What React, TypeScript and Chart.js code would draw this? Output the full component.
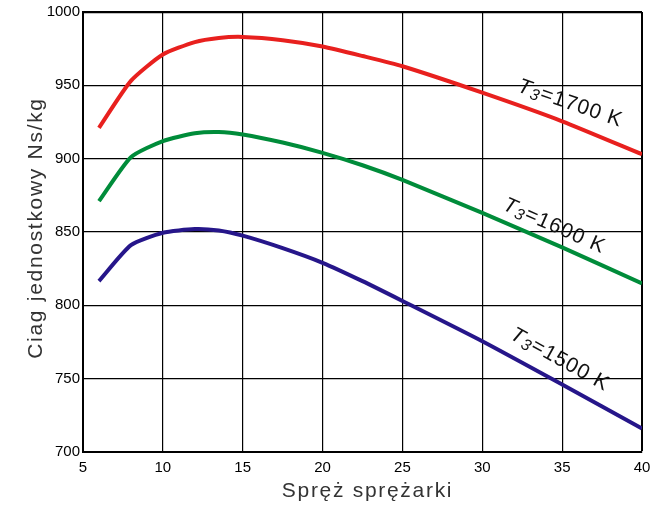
import React, { useEffect, useRef } from "react";
import { Chart, registerables } from "chart.js";

Chart.register(...registerables);

const xValues = [6, 8, 10, 12, 13.5, 15, 17.5, 20, 22.5, 25, 30, 35, 40];
const t1700 = [921, 953, 971, 979.5, 982.3, 983, 980.8, 976.5, 970, 963, 945, 925.5, 903];
const t1600 = [871, 901, 912, 917.3, 918.2, 916.5, 911, 904, 895.5, 885.5, 863, 839.5, 815];
const t1500 = [816.5, 841, 849.5, 852, 851, 847.5, 839, 829, 816.5, 803, 775.5, 746, 716];
const seriesLabels = ["1700", "1600", "1500"];
const xTicks = [5, 10, 15, 20, 25, 30, 35, 40];
const yTicks = [700, 750, 800, 850, 900, 950, 1000];
const xTitle = "Spręż sprężarki";
const yTitle = "Ciag jednostkowy Ns/kg";

const lineLabels = [
  { value: seriesLabels[0], x: 35.5, y: 937.5, angle: 19 },
  { value: seriesLabels[1], x: 34.5, y: 854, angle: 24 },
  { value: seriesLabels[2], x: 34.85, y: 763, angle: 29 },
];

const FONT = '"Liberation Sans", Arial, sans-serif';

const labelPlugin = {
  id: "lineLabels",
  afterDatasetsDraw(chart: any) {
    const ctx = chart.ctx;
    const xs = chart.scales.x;
    const ys = chart.scales.y;
    const area = chart.chartArea;
    lineLabels.forEach((l) => {
      const px = xs.getPixelForValue(l.x);
      const py = ys.getPixelForValue(l.y);
      const fs = 21;
      const parts = [
        { t: "T", font: `italic ${fs}px ${FONT}`, dy: 0 },
        { t: "3", font: `italic ${Math.round(fs * 0.75)}px ${FONT}`, dy: 4 },
        { t: "=" + l.value + " K", font: `${fs}px ${FONT}`, dy: 0 },
      ];
      ctx.save();
      (ctx as any).letterSpacing = "1px";
      ctx.translate(px, py);
      ctx.rotate((l.angle * Math.PI) / 180);
      let total = 0;
      parts.forEach((p) => {
        ctx.font = p.font;
        total += ctx.measureText(p.t).width;
      });
      let cx = -total / 2;
      ctx.fillStyle = "#111";
      ctx.textBaseline = "middle";
      ctx.textAlign = "left";
      parts.forEach((p) => {
        ctx.font = p.font;
        ctx.fillText(p.t, cx, p.dy);
        cx += ctx.measureText(p.t).width;
      });
      ctx.restore();
    });

    // axis titles
    ctx.save();
    (ctx as any).letterSpacing = "1.7px";
    ctx.fillStyle = "#333";
    ctx.font = `21px ${FONT}`;
    ctx.textAlign = "center";
    ctx.textBaseline = "alphabetic";
    ctx.fillText(xTitle, (area.left + area.right) / 2 + 5, 497);
    ctx.translate(42, (area.top + area.bottom) / 2 - 4);
    ctx.rotate(-Math.PI / 2);
    ctx.fillText(yTitle, 0, 0);
    ctx.restore();
  },
};

export default function App() {
  const ref = useRef<HTMLCanvasElement>(null);
  useEffect(() => {
    if (!ref.current) return;
    const mk = (data: number[], color: string) => ({
      data: xValues.map((x, i) => ({ x, y: data[i] })),
      borderColor: color,
      borderWidth: 4,
      pointRadius: 0,
      tension: 0.2,
      fill: false,
    });
    const tickFont = { family: FONT, size: 15 };
    const chart = new Chart(ref.current, {
      type: "line",
      data: {
        datasets: [
          mk(t1700, "#e8201e"),
          mk(t1600, "#008c3a"),
          mk(t1500, "#26168a"),
        ],
      },
      options: {
        animation: false,
        responsive: false,
        layout: { padding: { top: 11, right: 17, left: 0, bottom: 0 } },
        plugins: { legend: { display: false }, tooltip: { enabled: false } },
        scales: {
          x: {
            type: "linear",
            min: xTicks[0],
            max: xTicks[xTicks.length - 1],
            afterBuildTicks: (s: any) => {
              s.ticks = xTicks.map((v) => ({ value: v }));
            },
            ticks: { color: "#000", font: tickFont, padding: 7, maxRotation: 0, callback: (v: any) => String(v) },
            grid: {
              color: "#000",
              lineWidth: (c: any) => (c.index === xTicks.length - 1 ? 2 : 1.2),
              drawTicks: false,
            },
            border: { color: "#000", width: 2 },
            afterFit: (s: any) => {
              s.height = 56;
            },
          },
          y: {
            min: yTicks[0],
            max: yTicks[yTicks.length - 1],
            afterBuildTicks: (s: any) => {
              s.ticks = yTicks.map((v) => ({ value: v }));
            },
            ticks: { color: "#000", font: tickFont, padding: 3, callback: (v: any) => String(v) },
            grid: {
              color: "#000",
              lineWidth: (c: any) => (c.index === yTicks.length - 1 ? 2.2 : 1.2),
              drawTicks: false,
            },
            border: { color: "#000", width: 2 },
            afterFit: (s: any) => {
              s.width = 83;
            },
          },
        },
      },
      plugins: [labelPlugin],
    });
    return () => chart.destroy();
  }, []);
  return (
    <div style={{ position: "absolute", left: 0, top: 0, width: 659, height: 508, background: "#fff" }}>
      <canvas ref={ref} width={659} height={508} />
    </div>
  );
}
